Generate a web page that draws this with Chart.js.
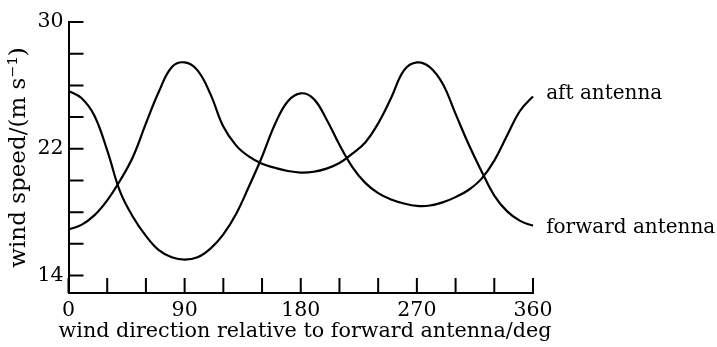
<!DOCTYPE html>
<html>
<head>
<meta charset="utf-8">
<script src="https://cdn.jsdelivr.net/npm/chart.js@4.4.0/dist/chart.umd.min.js"></script>
<style>
  html, body { margin: 0; padding: 0; background: #fff; }
  #wrap { width: 717px; height: 347px; }
</style>
</head>
<body>
<div id="wrap"><canvas id="windChart" width="717" height="347"></canvas></div>
<script>
// DATA
const angles = [0, 10, 20, 30, 40, 50, 60, 70, 80, 90, 100, 110, 120, 130, 140, 150, 160, 170, 180,
  190, 200, 210, 220, 230, 240, 250, 260, 270, 280, 290, 300, 310, 320, 330, 340, 350, 360, 364];
const aftSpeed = [25.65, 25.2, 24.1, 21.9, 19.3, 17.7, 16.5, 15.6, 15.15, 15.0, 15.15, 15.7, 16.6, 17.9, 19.65, 21.5, 23.55, 25.0, 25.5,
  25.15, 23.85, 22.25, 20.85, 19.85, 19.2, 18.8, 18.55, 18.4, 18.42, 18.62, 18.95, 19.4, 20.1, 21.25, 22.85, 24.4, 25.3, 25.55];
const fwdSpeed = [16.9, 17.2, 17.8, 18.75, 20.0, 21.5, 23.6, 25.6, 27.15, 27.45, 26.95, 25.45, 23.4, 22.2, 21.5, 21.05, 20.8, 20.6, 20.5,
  20.55, 20.75, 21.1, 21.7, 22.4, 23.6, 25.2, 26.95, 27.45, 27.15, 26.1, 24.2, 22.3, 20.6, 19.05, 18.05, 17.45, 17.15, 17.1];
const seriesNames = ["aft antenna", "forward antenna"];
const xTitle = "wind direction relative to forward antenna/deg";
const yTitle = "wind speed/(m s\u207B\u00B9)";
const xTicks = [0, 30, 60, 90, 120, 150, 180, 210, 240, 270, 300, 330, 360];
const xLabels = [0, 90, 180, 270, 360];
const yTicks = [14, 16, 18, 20, 22, 24, 26, 28, 30];
const yLabels = [14, 22, 30];

const FONT = "'DejaVu Serif', serif";

// inward tick marks, x title (wider than the plot) and curve labels
const extrasPlugin = {
  id: "extras",
  afterDraw(chart) {
    const ctx = chart.ctx;
    const xs = chart.scales.x;
    const ys = chart.scales.y;
    const area = chart.chartArea;
    ctx.save();
    ctx.strokeStyle = "#000";
    ctx.lineWidth = 2;
    ctx.beginPath();
    xTicks.forEach(v => {
      const px = xs.getPixelForValue(v);
      ctx.moveTo(px, area.bottom);
      ctx.lineTo(px, area.bottom - 15);
    });
    yTicks.forEach(v => {
      const py = ys.getPixelForValue(v);
      ctx.moveTo(area.left, py);
      ctx.lineTo(area.left + 15, py);
    });
    ctx.stroke();

    ctx.fillStyle = "#000";
    ctx.font = "20.7px " + FONT;
    ctx.textAlign = "center";
    ctx.textBaseline = "alphabetic";
    ctx.fillText(xTitle, 305, 337);

    ctx.font = "20px " + FONT;
    ctx.textBaseline = "middle";
    ctx.textAlign = "left";
    chart.data.datasets.forEach((ds, i) => {
      const pts = chart.getDatasetMeta(i).data;
      const last = pts[pts.length - 1];
      ctx.fillText(ds.label, last.x + 8, last.y + 1);
    });
    ctx.restore();
  }
};

const ctx = document.getElementById("windChart").getContext("2d");
const windChart = new Chart(ctx, {
  type: "line",
  data: {
    datasets: [
      {
        label: seriesNames[0],
        data: angles.map((a, i) => ({ x: a, y: aftSpeed[i] })),
        borderColor: "#000",
        borderWidth: 2.2,
        pointRadius: 0,
        tension: 0.4,
        clip: false
      },
      {
        label: seriesNames[1],
        data: angles.map((a, i) => ({ x: a, y: fwdSpeed[i] })),
        borderColor: "#000",
        borderWidth: 2.2,
        pointRadius: 0,
        tension: 0.4,
        clip: false
      }
    ]
  },
  options: {
    responsive: false,
    animation: false,
    events: [],
    layout: { padding: { top: 22, right: 184, left: 0, bottom: 0 } },
    plugins: { legend: { display: false }, tooltip: { enabled: false } },
    scales: {
      x: {
        type: "linear",
        min: 0,
        max: 360,
        afterBuildTicks: s => { s.ticks = xTicks.map(v => ({ value: v })); },
        afterFit: s => { s.height = 54; },
        grid: { drawOnChartArea: false, drawTicks: false },
        border: { display: true, color: "#000", width: 2 },
        ticks: {
          color: "#000",
          font: { family: FONT, size: 20.5 },
          padding: 5,
          maxRotation: 0,
          autoSkip: false,
          callback: v => (xLabels.includes(v) ? String(v) : "")
        },
        title: { display: false }
      },
      y: {
        type: "linear",
        min: 12.9,
        max: 30,
        afterBuildTicks: s => { s.ticks = yTicks.map(v => ({ value: v })); },
        afterFit: s => { s.width = 68.5; },
        grid: { drawOnChartArea: false, drawTicks: false },
        border: { display: true, color: "#000", width: 2 },
        ticks: {
          color: "#000",
          font: { family: FONT, size: 20.5 },
          padding: 5,
          autoSkip: false,
          callback: v => (yLabels.includes(v) ? String(v) : "")
        },
        title: {
          display: true,
          text: yTitle,
          color: "#000",
          font: { family: FONT, size: 23 },
          padding: { top: 5, bottom: 0 }
        }
      }
    }
  },
  plugins: [extrasPlugin]
});
</script>
</body>
</html>
